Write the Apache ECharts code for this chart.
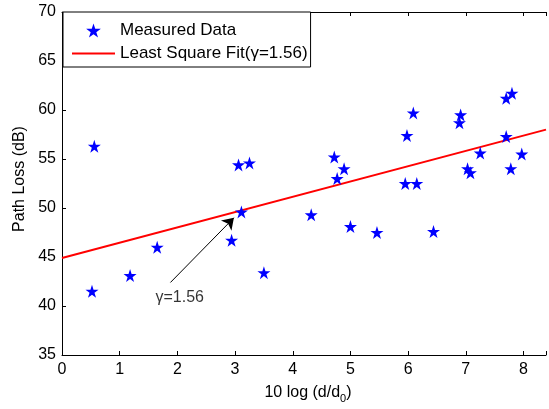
<!DOCTYPE html>
<html>
<head>
<meta charset="utf-8">
<script src="https://cdn.jsdelivr.net/npm/echarts@6/dist/echarts.min.js"></script>
<style>html,body{margin:0;padding:0;background:#fff;}#c{width:549px;height:409px;}</style>
</head>
<body>
<div id="c"></div>
<script>
// ---- data ----
var measuredX = [0.56, 0.52, 1.18, 1.65, 2.94, 3.11, 3.06, 3.25, 3.50, 4.32, 4.72, 4.89, 4.77, 5.00, 5.46,
                 6.09, 5.98, 5.95, 6.15, 6.44, 6.91, 6.89, 7.03, 7.08, 7.25, 7.70, 7.80, 7.70, 7.78, 7.97];
var measuredY = [56.3, 41.5, 43.1, 46.0, 46.7, 49.6, 54.4, 54.6, 43.4, 49.3, 55.2, 54.0, 53.0, 48.1, 47.5,
                 59.7, 57.4, 52.5, 52.5, 47.6, 59.5, 58.7, 54.0, 53.6, 55.6, 61.2, 61.7, 57.3, 54.0, 55.5];
var fitX = [0, 8.39];
var fitY = [44.9, 58.0];
var arrowX = [1.88, 2.98];
var arrowY = [42.4, 49.0];
var noteX = [2.04];
var noteY = [40.85];
var noteText = 'γ=1.56';
var xTicks = [0, 1, 2, 3, 4, 5, 6, 7, 8];
var yTicks = [35, 40, 45, 50, 55, 60, 65, 70];
var seriesNames = ['Measured Data', 'Least Square Fit(γ=1.56)'];

var FONT = 'Liberation Sans, Arial, sans-serif';
var starPath = 'path://M0 -100 L22.45 -30.9 L95.1 -30.9 L36.3 11.8 L58.8 80.9 L0 38.2 L-58.8 80.9 L-36.3 11.8 L-95.1 -30.9 L-22.45 -30.9 Z';
var lineIcon = 'path://M0 0 L43 0 L43 2 L0 2 Z';

function zip(a, b) { return a.map(function (v, i) { return [v, b[i]]; }); }

var chart = echarts.init(document.getElementById('c'), null, {renderer: 'canvas'});
var axisCommon = {
  type: 'value',
  axisLine: {show: true, onZero: false, lineStyle: {color: '#000', width: 1}},
  axisTick: {show: true, inside: true, length: 4, lineStyle: {color: '#000'}},
  splitLine: {show: false}
};
chart.setOption({
  animation: false,
  backgroundColor: '#fff',
  textStyle: {fontFamily: FONT},
  grid: {left: 62, right: 0, top: 12, bottom: 53, containLabel: false},
  legend: {
    left: 63, top: 12, orient: 'vertical',
    backgroundColor: '#fff', borderColor: '#000', borderWidth: 1, borderRadius: 0,
    padding: [10, 3, 5, 9],
    itemWidth: 43, itemHeight: 14, itemGap: 6,
    textStyle: {fontFamily: FONT, fontSize: 17, color: '#000'},
    data: [
      {name: seriesNames[0]},
      {name: seriesNames[1], icon: lineIcon, itemStyle: {color: '#ff0000'}}
    ],
    z: 10
  },
  xAxis: [
    Object.assign({}, axisCommon, {
      position: 'bottom', min: xTicks[0], max: fitX[1], interval: 1,
      name: '10 log (d/d{sub|0})', nameLocation: 'middle', nameGap: 26,
      nameTextStyle: {
        fontFamily: FONT, fontSize: 16, color: '#000', verticalAlign: 'top', padding: [0, 0, 0, 8],
        rich: {sub: {fontFamily: FONT, fontSize: 11, color: '#000', padding: [12, 0, 0, 0]}}
      },
      axisLabel: {
        fontFamily: FONT, fontSize: 16, color: '#000', margin: 7,
        formatter: function (v) { return xTicks.indexOf(v) >= 0 ? String(v) : ''; }
      }
    }),
    Object.assign({}, axisCommon, {
      position: 'top', min: xTicks[0], max: fitX[1], interval: 1,
      axisLabel: {show: false}
    })
  ],
  yAxis: [
    Object.assign({}, axisCommon, {
      position: 'left', min: yTicks[0], max: yTicks[yTicks.length - 1], interval: 5,
      name: 'Path Loss (dB)', nameLocation: 'middle', nameGap: 31,
      nameTextStyle: {fontFamily: FONT, fontSize: 16, color: '#000', padding: [0, 0, 0, 9]},
      axisLabel: {fontFamily: FONT, fontSize: 16, color: '#000', margin: 6}
    })
  ],
  series: [
    {
      name: seriesNames[0], type: 'scatter', xAxisIndex: 0, yAxisIndex: 0,
      symbol: starPath, symbolSize: 13,
      itemStyle: {color: '#0000ff', opacity: 1},
      data: zip(measuredX, measuredY), z: 3
    },
    {
      name: seriesNames[1], type: 'line', xAxisIndex: 0, yAxisIndex: 0,
      symbol: 'none', showSymbol: false,
      lineStyle: {color: '#ff0000', width: 2},
      itemStyle: {color: '#ff0000'},
      data: zip(fitX, fitY), z: 2
    },
    {
      name: 'note', type: 'scatter', xAxisIndex: 0, yAxisIndex: 0,
      symbolSize: 0, silent: true,
      label: {show: true, position: 'inside', formatter: noteText,
        fontFamily: FONT, fontSize: 16, color: '#000'},
      data: zip(noteX, noteY),
      markLine: {
        silent: true, symbol: ['none', 'arrow'], symbolSize: 11,
        lineStyle: {color: '#000', width: 1, type: 'solid', opacity: 1},
        itemStyle: {color: '#000'},
        label: {show: false},
        data: [[{coord: [arrowX[0], arrowY[0]]}, {coord: [arrowX[1], arrowY[1]]}]]
      },
      z: 4
    }
  ]
});
</script>
</body>
</html>
